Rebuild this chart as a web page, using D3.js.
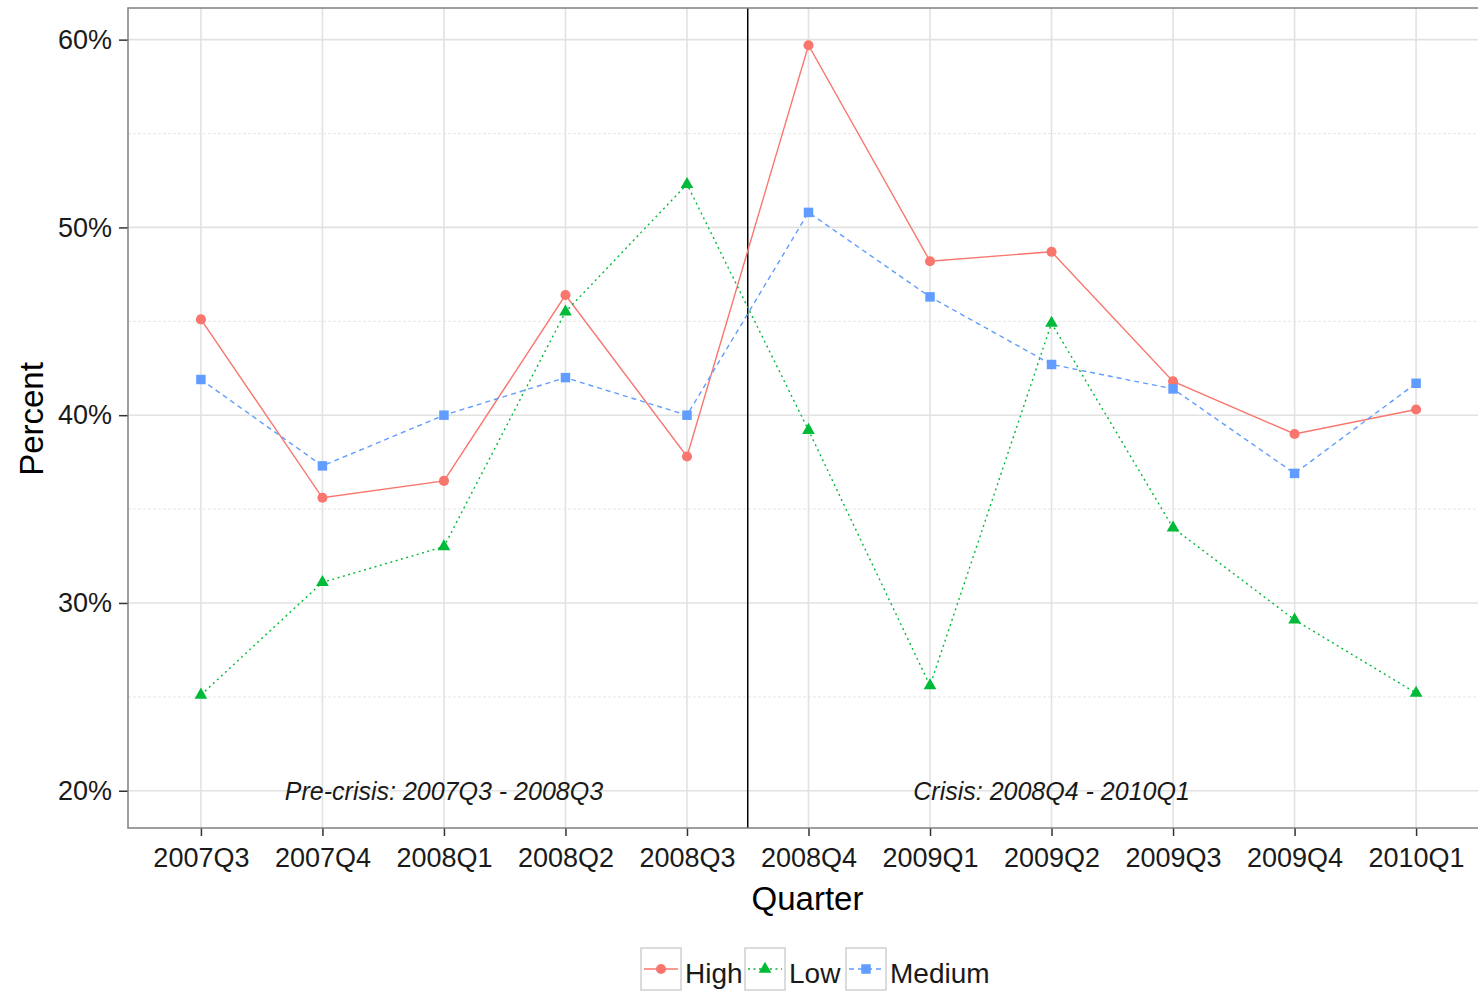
<!DOCTYPE html>
<html><head><meta charset="utf-8">
<script src="https://cdn.jsdelivr.net/npm/d3@7"></script>
<style>body{margin:0;background:#fff;} text{font-family:"Liberation Sans",Arial,sans-serif;}</style>
</head><body>
<svg id="c" width="1478" height="992"></svg>
<script>
const quarters = ["2007Q3","2007Q4","2008Q1","2008Q2","2008Q3","2008Q4","2009Q1","2009Q2","2009Q3","2009Q4","2010Q1"];
const highValues   = [45.1, 35.6, 36.5, 46.4, 37.8, 59.7, 48.2, 48.7, 41.8, 39.0, 40.3];
const lowValues    = [25.1, 31.1, 33.0, 45.5, 52.3, 39.2, 25.6, 44.9, 34.0, 29.1, 25.2];
const mediumValues = [41.9, 37.3, 40.0, 42.0, 40.0, 50.8, 46.3, 42.7, 41.4, 36.9, 41.7];
const seriesNames = ["High","Low","Medium"];
const yTicks = [20, 30, 40, 50, 60];
const yMinorTicks = [25, 35, 45, 55];
const annotations = [
  {label:"Pre-crisis: 2007Q3 - 2008Q3", at:"2008Q1", y:20},
  {label:"Crisis: 2008Q4 - 2010Q1", at:"2009Q2", y:20}
];
const breakBetween = ["2008Q3","2008Q4"];

const colors = {High:"#F8766D", Low:"#00BA38", Medium:"#619CFF"};
const dashes = {High:null, Low:"2,3.5", Medium:"5,4"};
const series = [
  {name:"High", values:highValues},
  {name:"Low", values:lowValues},
  {name:"Medium", values:mediumValues}
];

const svg = d3.select("#c");
const L = 128, R = 1489, T = 8, B = 828;

const x = d3.scalePoint().domain(quarters).range([L, R]).padding(0.6);
const allVals = highValues.concat(lowValues, mediumValues, annotations.map(a=>a.y));
const lo = d3.min(allVals), hi = d3.max(allVals), pad = (hi-lo)*0.05;
const y = d3.scaleLinear().domain([lo-pad, hi+pad]).range([B, T]);

// grid
const g = svg.append("g");
g.selectAll(".ymin").data(yMinorTicks).join("line")
  .attr("x1",L).attr("x2",R).attr("y1",d=>y(d)).attr("y2",d=>y(d))
  .attr("stroke","#ebebeb").attr("stroke-width",1.2).attr("stroke-dasharray","3,2");
g.selectAll(".ymaj").data(yTicks).join("line")
  .attr("x1",L).attr("x2",R).attr("y1",d=>y(d)).attr("y2",d=>y(d))
  .attr("stroke","#e2e2e2").attr("stroke-width",1.6);
g.selectAll(".xmaj").data(quarters).join("line")
  .attr("x1",d=>x(d)).attr("x2",d=>x(d)).attr("y1",T).attr("y2",B)
  .attr("stroke","#e2e2e2").attr("stroke-width",1.6);

// axes
const yAxis = d3.axisLeft(y).tickValues(yTicks).tickFormat(d=>d+"%").tickSize(9).tickPadding(7);
const ya = svg.append("g").attr("transform",`translate(${L},0)`).call(yAxis);
ya.select(".domain").remove();
ya.selectAll("line").attr("stroke","#333").attr("stroke-width",1.5);
ya.selectAll("text").attr("font-size",27).attr("fill","#1a1a1a").style("font-family","Liberation Sans, Arial, sans-serif");

const xAxis = d3.axisBottom(x).tickSize(8).tickPadding(12);
const xa = svg.append("g").attr("transform",`translate(0,${B})`).call(xAxis);
xa.select(".domain").remove();
xa.selectAll("line").attr("stroke","#333").attr("stroke-width",1.5);
xa.selectAll("text").attr("font-size",27).attr("fill","#1a1a1a").style("font-family","Liberation Sans, Arial, sans-serif");

// break line
const bx = (x(breakBetween[0]) + x(breakBetween[1]))/2;
svg.append("line").attr("x1",bx).attr("x2",bx).attr("y1",T).attr("y2",B)
  .attr("stroke","#000").attr("stroke-width",1.5);

// annotations
svg.selectAll(".ann").data(annotations).join("text")
  .attr("x",d=>x(d.at)).attr("y",d=>y(d.y)+9)
  .attr("text-anchor","middle").attr("font-style","italic").attr("font-size",25).attr("fill","#1a1a1a")
  .text(d=>d.label);

// lines
const line = d3.line().x((d,i)=>x(quarters[i])).y(d=>y(d));
svg.selectAll(".ser").data(series).join("path")
  .attr("d",d=>line(d.values)).attr("fill","none")
  .attr("stroke",d=>colors[d.name]).attr("stroke-width",1.4)
  .attr("stroke-dasharray",d=>dashes[d.name]);

// markers
const sym = {High:d3.symbolCircle, Low:d3.symbolTriangle, Medium:d3.symbolSquare};
const size = {High:80, Low:70, Medium:90};
series.forEach(s=>{
  svg.selectAll(".m"+s.name).data(s.values).join("path")
    .attr("transform",(d,i)=>`translate(${x(quarters[i])},${y(d)})`)
    .attr("d",d3.symbol().type(sym[s.name]).size(size[s.name])())
    .attr("fill",colors[s.name]);
});

// border
svg.append("rect").attr("x",L).attr("y",T).attr("width",R-L).attr("height",B-T)
  .attr("fill","none").attr("stroke","#7f7f7f").attr("stroke-width",1.5);

// axis titles
svg.append("text").attr("x",(L+R)/2 - 1).attr("y",910).attr("text-anchor","middle")
  .attr("font-size",33).attr("fill","#000").text("Quarter");
svg.append("text").attr("transform",`translate(43,419) rotate(-90)`).attr("text-anchor","middle")
  .attr("font-size",33).attr("fill","#000").text("Percent");

// legend
const keyX = [641, 745, 846];
const keyW = 40, keyTop = 948, keyH = 42;
const lg = svg.append("g");
seriesNames.forEach((n,i)=>{
  const kx = keyX[i];
  lg.append("rect").attr("x",kx).attr("y",keyTop).attr("width",keyW).attr("height",keyH)
    .attr("fill","#fff").attr("stroke","#d0d0d0").attr("stroke-width",1.5);
  const cy = 969;
  lg.append("line").attr("x1",kx+3).attr("x2",kx+keyW-3).attr("y1",cy).attr("y2",cy)
    .attr("stroke",colors[n]).attr("stroke-width",1.4).attr("stroke-dasharray",dashes[n]);
  lg.append("path").attr("transform",`translate(${kx+keyW/2},${cy})`)
    .attr("d",d3.symbol().type(sym[n]).size(size[n])()).attr("fill",colors[n]);
  lg.append("text").attr("x",kx+keyW+4).attr("y",983).attr("font-size",28).attr("fill","#1a1a1a").text(n);
});
</script>
</body></html>
